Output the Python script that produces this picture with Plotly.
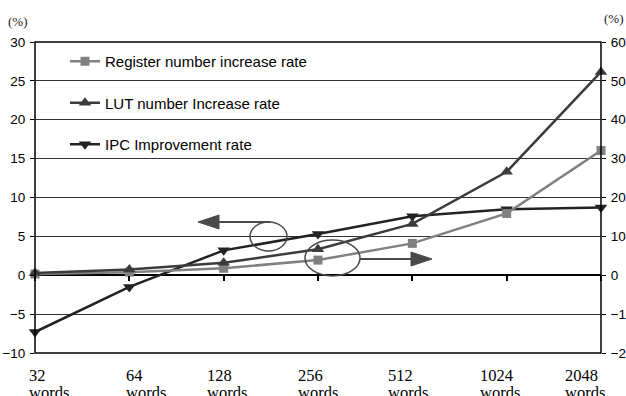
import plotly.graph_objects as go

categories = ["32", "64", "128", "256", "512", "1024", "2048"]
tick_numbers = ["32", "64", "128", "256", "512", "1024", "2048"]
tick_unit = "words"
register_rate = [0.3, 0.8, 1.8, 3.9, 8.2, 15.9, 32.1]   # right axis
lut_rate = [0.6, 1.5, 3.2, 6.7, 13.2, 26.6, 52.3]       # right axis
ipc_rate = [-7.3, -1.5, 3.2, 5.3, 7.6, 8.5, 8.7]        # left axis
left_ticks = [-10, -5, 0, 5, 10, 15, 20, 25, 30]
right_ticks = [-20, -10, 0, 10, 20, 30, 40, 50, 60]

# horizontal pixel offsets of the category labels relative to their category
label_shift = [-8, -5, -19, -22, -26, -29, -38]

W, H = 626, 396
ML, MR, MT, MB = 35, 25, 42, 43
PW, PH = W - ML - MR, H - MT - MB


def px(x):
    return (x - ML) / PW


def py(y):
    return (H - MB - y) / PH


fig = go.Figure()
fig.add_trace(go.Scatter(
    x=categories, y=register_rate, name="Register number increase rate",
    yaxis="y2", mode="lines+markers", cliponaxis=False,
    line=dict(color="#808080", width=2.5),
    marker=dict(symbol="square", size=9, color="#808080"),
    legendgroup="a"))
fig.add_trace(go.Scatter(
    x=categories, y=lut_rate, name="LUT number Increase rate",
    yaxis="y2", mode="lines+markers", cliponaxis=False,
    line=dict(color="#3c3c3c", width=2.5),
    marker=dict(symbol="triangle-up", size=11, color="#3c3c3c"),
    legendgroup="b"))
fig.add_trace(go.Scatter(
    x=categories, y=ipc_rate, name="IPC Improvement rate",
    yaxis="y", mode="lines+markers", cliponaxis=False,
    line=dict(color="#222222", width=2.5),
    marker=dict(symbol="triangle-down", size=11, color="#222222"),
    legendgroup="c"))

axis_font = dict(family="Liberation Sans, Arial, sans-serif", size=13.5, color="#000")

fig.update_layout(
    width=W, height=H,
    margin=dict(l=ML, r=MR, t=MT, b=MB, pad=0, autoexpand=False),
    paper_bgcolor="white", plot_bgcolor="white",
    showlegend=True,
    legend=dict(x=px(65), y=py(45), xanchor="left", yanchor="top",
                font=dict(family="Liberation Sans, Arial, sans-serif", size=15, color="#000"),
                bgcolor="rgba(0,0,0,0)", tracegroupgap=19, itemwidth=30),
    xaxis=dict(type="category", range=[0, 6], anchor="free", position=0.25,
               showticklabels=False, ticks="outside", ticklen=5, tickwidth=1.5,
               tickcolor="#000", showgrid=False, showline=False, zeroline=False),
    yaxis=dict(range=[-10, 30], tickvals=left_ticks, ticks="outside", ticklen=4,
               tickcolor="#000", showgrid=True, gridcolor="#333", gridwidth=1,
               zeroline=True, zerolinecolor="#000", zerolinewidth=1.5, automargin=False,
               showline=False, tickfont=axis_font, ticklabelstandoff=2),
    yaxis2=dict(range=[-20, 60], tickvals=right_ticks, overlaying="y", side="right",
                ticks="outside", ticklen=4, tickcolor="#000", showgrid=False, automargin=False,
                zeroline=False, showline=False, tickfont=axis_font, ticklabelstandoff=2),
)

# plot border
fig.add_shape(type="rect", xref="paper", yref="paper", x0=0, x1=1, y0=0, y1=1,
              line=dict(color="#000", width=1.5), layer="above")

# category labels (left aligned, two lines)
label_font = dict(family="Liberation Serif, DejaVu Serif, serif", size=16.5, color="#000")
for i, num in enumerate(tick_numbers):
    fig.add_annotation(x=i, y=0, xref="x", yref="paper", text=num, showarrow=False,
                       xanchor="left", yanchor="top", align="left",
                       xshift=label_shift[i], yshift=-11, font=label_font)
    fig.add_annotation(x=i, y=0, xref="x", yref="paper", text=tick_unit, showarrow=False,
                       xanchor="left", yanchor="top", align="left",
                       xshift=label_shift[i], yshift=-28, font=label_font)

# unit labels
unit_font = dict(family="Liberation Serif, serif", size=13, color="#222")
fig.add_annotation(x=px(17.5), y=py(21), xref="paper", yref="paper", text="(%)", showarrow=False,
                   xanchor="center", yanchor="middle", font=unit_font)
fig.add_annotation(x=px(614), y=py(18), xref="paper", yref="paper", text="(%)", showarrow=False,
                   xanchor="center", yanchor="middle", font=unit_font)

# ellipses
ann_col = "#4a4a4a"
fig.add_shape(type="circle", xref="paper", yref="paper",
              x0=px(250), x1=px(287), y0=py(222), y1=py(251),
              line=dict(color=ann_col, width=1.5))
fig.add_shape(type="circle", xref="paper", yref="paper",
              x0=px(305), x1=px(360), y0=py(240), y1=py(276),
              line=dict(color=ann_col, width=1.5))
# arrow left
fig.add_shape(type="line", xref="paper", yref="paper",
              x0=px(270), x1=px(215), y0=py(222), y1=py(222),
              line=dict(color=ann_col, width=2))
fig.add_shape(type="path", xref="paper", yref="paper",
              path=f"M {px(198)} {py(222)} L {px(219)} {py(215)} L {px(219)} {py(229)} Z",
              fillcolor=ann_col, line=dict(color=ann_col, width=1))
# arrow right
fig.add_shape(type="line", xref="paper", yref="paper",
              x0=px(360), x1=px(414), y0=py(259), y1=py(259),
              line=dict(color=ann_col, width=2))
fig.add_shape(type="path", xref="paper", yref="paper",
              path=f"M {px(432)} {py(259)} L {px(411)} {py(252)} L {px(411)} {py(266)} Z",
              fillcolor=ann_col, line=dict(color=ann_col, width=1))

fig.write_html("out.html", config={"displayModeBar": False},
               post_script="document.body.style.margin='0';")
